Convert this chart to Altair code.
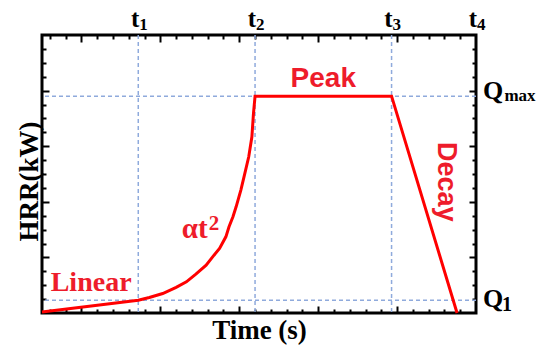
import altair as alt
import pandas as pd

# ---------------- data ----------------
# time axis: -0.5 .. 5 (t4 sits on the right frame); HRR axis: 0 .. 5
curve_t = [-0.5, 0.72, 0.86, 1.03, 1.20, 1.33, 1.45, 1.58, 1.68, 1.75, 1.83, 1.87, 1.92,
           1.96, 2.02, 2.06, 2.12, 2.16, 2.18, 2.20, 3.93, 4.76]
curve_hrr = [0.02, 0.23, 0.28, 0.35, 0.46, 0.56, 0.70, 0.86, 1.04, 1.16, 1.37, 1.55, 1.73,
             1.91, 2.21, 2.45, 2.81, 3.17, 3.59, 3.90, 3.90, 0.0]

phase_times = [0.72, 2.20, 3.93, 5.0]          # t1 .. t4
phase_subs = ["1", "2", "3", "4"]
grid_times = [0.72, 2.20, 3.93]                # dashed verticals
q_levels = [0.23, 3.90]                        # Q1, Qmax (dashed horizontals)

x_major = [0, 1, 2, 3, 4]
x_minor = [-0.4, -0.2, 0.2, 0.4, 0.6, 0.8, 1.2, 1.4, 1.6, 1.8, 2.2, 2.4, 2.6, 2.8,
           3.2, 3.4, 3.6, 3.8, 4.2, 4.4, 4.6, 4.8]
y_major = [1, 2, 3, 4]
y_minor = [0.25, 0.5, 0.75, 1.25, 1.5, 1.75, 2.25, 2.5, 2.75, 3.25, 3.5, 3.75,
           4.25, 4.5, 4.75]

# annotation anchors (data coordinates)
linear_text = ["Linear"]
linear_x = [-0.39]
linear_y = [0.40]
alpha_text = ["αt"]
alpha_x = [1.60]
alpha_y = [1.35]
sup_text = ["2"]
sup_x = [1.60]
sup_y = [1.49]
peak_text = ["Peak"]
peak_x = [2.65]
peak_y = [4.06]
decay_text = ["Decay"]
decay_x = [4.62]
decay_y = [2.36]
t_label_y = [5.144, 5.144, 5.144, 5.144]
t_sub_y = [5.09, 5.09, 5.09, 5.09]
q_text = ["Q", "Q"]
q_x = [5.09, 5.09]
q_y = [0.108, 3.84]
q1_sub = ["1"]
q1_sub_x = [5.33]
q1_sub_y = [0.036]
qmax_sub = ["max"]
qmax_sub_x = [5.36]
qmax_sub_y = [3.81]

RED_LINE = "#ff0000"
RED_TEXT = "#ee1c2b"
GRID = "#8faadc"
SERIF = "Liberation Serif"
SANS = "Liberation Sans"

xs = alt.Scale(domain=[-0.5, 5], nice=False, zero=False)
ys = alt.Scale(domain=[0, 5], nice=False, zero=False)


def tick_axis(orient, values, size, **kw):
    base = dict(orient=orient, values=values, offset=-size, tickSize=size, tickWidth=2,
                tickColor="black", domain=False, labels=False, grid=False, title=None)
    base.update(kw)
    return alt.Axis(**base)


def plain(df_cols, **mark):
    return alt.Chart(pd.DataFrame(df_cols)).mark_text(**mark).encode(
        x=alt.X("x:Q", scale=xs, axis=None), y=alt.Y("y:Q", scale=ys, axis=None), text="s:N")


# ---------------- layers ----------------
vgrid = alt.Chart(pd.DataFrame({"t": grid_times})).mark_rule(
    color=GRID, strokeDash=[4, 3], strokeWidth=1.5
).encode(x=alt.X("t:Q", scale=xs, axis=None))

hgrid = alt.Chart(pd.DataFrame({"q": q_levels})).mark_rule(
    color=GRID, strokeDash=[4, 3], strokeWidth=1.5
).encode(y=alt.Y("q:Q", scale=ys, axis=None))

curve = alt.Chart(pd.DataFrame({"t": curve_t, "hrr": curve_hrr})).mark_line(
    color=RED_LINE, strokeWidth=3
).encode(
    x=alt.X("t:Q", scale=xs, axis=tick_axis(
        "bottom", x_major, 7, title="Time (s)", titleFont=SERIF, titleFontSize=27,
        titleFontWeight="bold", titleColor="black", titleBaseline="alphabetic", titleY=32)),
    y=alt.Y("hrr:Q", scale=ys, axis=tick_axis(
        "left", y_major, 7, title="HRR(kW)", titleFont=SERIF, titleFontSize=27,
        titleFontWeight="bold", titleColor="black", titleBaseline="alphabetic",
        titleAlign="center", titleAngle=270, titleX=-12, titleY=146)),
    order=alt.Order("t:Q"),
)

linear_lbl = alt.Chart(pd.DataFrame({"x": linear_x, "y": linear_y, "s": linear_text})).mark_text(
    align="left", baseline="alphabetic", font=SERIF, fontWeight="bold", fontSize=28, color=RED_TEXT
).encode(
    x=alt.X("x:Q", scale=xs, axis=tick_axis("bottom", x_minor, 4)),
    y=alt.Y("y:Q", scale=ys, axis=tick_axis("left", y_minor, 4)),
    text="s:N",
)

alpha_lbl = plain({"x": alpha_x, "y": alpha_y, "s": alpha_text},
                  align="right", baseline="alphabetic", font=SERIF, fontWeight="bold",
                  fontSize=29, color=RED_TEXT)

sup_lbl = plain({"x": sup_x, "y": sup_y, "s": sup_text},
                align="left", baseline="alphabetic", dx=1, font=SERIF, fontWeight="bold",
                fontSize=21, color=RED_TEXT)

peak_lbl = alt.Chart(pd.DataFrame({"x": peak_x, "y": peak_y, "s": peak_text})).mark_text(
    align="left", baseline="alphabetic", font=SANS, fontWeight="bold", fontSize=28, color=RED_TEXT
).encode(
    x=alt.X("x:Q", scale=xs, axis=tick_axis("top", x_major, 7)),
    y=alt.Y("y:Q", scale=ys, axis=tick_axis("right", y_major, 7)),
    text="s:N",
)

decay_lbl = alt.Chart(pd.DataFrame({"x": decay_x, "y": decay_y, "s": decay_text})).mark_text(
    align="center", baseline="middle", angle=90, font=SANS, fontWeight="bold", fontSize=27,
    color=RED_TEXT
).encode(
    x=alt.X("x:Q", scale=xs, axis=tick_axis("top", x_minor, 4)),
    y=alt.Y("y:Q", scale=ys, axis=tick_axis("right", y_minor, 4)),
    text="s:N",
)

t_lbl = plain({"x": phase_times, "y": t_label_y, "s": ["t"] * 4},
              align="right", baseline="alphabetic", dx=1, font=SERIF, fontWeight="bold",
              fontSize=25, color="black")

t_sub = plain({"x": phase_times, "y": t_sub_y, "s": phase_subs},
              align="left", baseline="alphabetic", dx=1, font=SERIF, fontWeight="bold",
              fontSize=17, color="black")

q_lbl = plain({"x": q_x, "y": q_y, "s": q_text},
              align="left", baseline="alphabetic", font=SERIF, fontWeight="bold",
              fontSize=26, color="black")

q1_lbl = plain({"x": q1_sub_x, "y": q1_sub_y, "s": q1_sub},
               align="left", baseline="alphabetic", font=SERIF, fontWeight="bold",
               fontSize=20, color="black")

qmax_lbl = plain({"x": qmax_sub_x, "y": qmax_sub_y, "s": qmax_sub},
                 align="left", baseline="alphabetic", font=SERIF, fontWeight="bold",
                 fontSize=17, color="black")

chart = alt.layer(
    vgrid, hgrid, curve, linear_lbl, alpha_lbl, sup_lbl, peak_lbl, decay_lbl,
    t_lbl, t_sub, q_lbl, q1_lbl, qmax_lbl
).resolve_axis(
    x="independent", y="independent"
).properties(
    width=434, height=278,
    autosize=alt.AutoSizeParams(type="none"),
    padding={"left": 42, "top": 35, "right": 66, "bottom": 34},
    background="white",
).configure_view(
    stroke="black", strokeWidth=3
)

chart.save("out.html", embed_options={"renderer": "svg", "actions": False})
